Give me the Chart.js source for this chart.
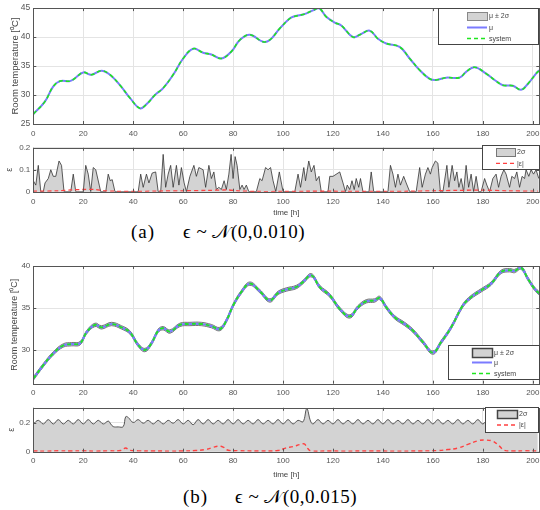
<!DOCTYPE html>
<html><head><meta charset="utf-8">
<script src="https://cdn.jsdelivr.net/npm/chart.js@4.4.0/dist/chart.umd.min.js"></script>
<style>
html,body{margin:0;padding:0;background:#fff;width:540px;height:510px;overflow:hidden;position:relative}
.c{position:absolute;left:0;width:560px}
.cap{position:absolute;font-family:"Liberation Serif","DejaVu Serif",serif;font-size:19px;color:#000;white-space:nowrap;line-height:20px}
</style></head><body>
<div class="c" style="top:0;height:140px"><canvas id="c1"></canvas></div>
<div class="c" style="top:140px;height:80px"><canvas id="c2"></canvas></div>
<div class="cap" style="left:131px;top:222px;letter-spacing:1px">(a)</div>
<div class="cap" style="left:183px;top:222px;letter-spacing:0.5px">ϵ ~ 𝒩(0,0.010)</div>
<div class="c" style="top:255px;height:145px"><canvas id="c3"></canvas></div>
<div class="c" style="top:400px;height:85px"><canvas id="c4"></canvas></div>
<div class="cap" style="left:183px;top:487px;letter-spacing:1px">(b)</div>
<div class="cap" style="left:235px;top:487px;letter-spacing:0.5px">ϵ ~ 𝒩(0,0.015)</div>
<script>
// ---------- data ----------
const X_TICKS = [0,20,40,60,80,100,120,140,160,180,200];
const X_MAX = 202.6;

// (a) room temperature: mean / system
const T_A = [0,4.7,8,10.7,14.7,16.7,20,23.3,27.3,30.7,34.7,38.7,42.7,45.3,48.7,52,56,60,64,68,71.3,75.3,79.3,82.7,86.7,92,94.7,98.7,102.4,104,108,112,114.4,117.3,120.7,123.3,128,130.7,134.7,138,141.3,146.7,150.7,154.7,158.7,161.3,165.3,170.7,173.3,176.7,181.3,184.7,188,192,195.3,198,201.3,202.7];
const MU_A = [26.7,28.9,31.5,32.4,32.4,32.9,33.9,33.5,34.2,33.5,31.7,29.5,27.7,28.4,30.0,31.2,33.5,36.3,38.0,37.3,37.0,36.3,37.5,39.5,40.4,39.2,39.5,41.5,43.1,43.5,43.9,44.6,45.0,43.5,42.5,42.0,40.0,40.4,41.1,39.7,38.9,38.3,36.3,34.3,32.8,32.6,33.0,33.0,34.0,34.8,33.7,32.6,31.7,31.6,30.9,31.9,33.7,34.3];
const Y_TICKS_A = [25,30,35,40,45];

// (a) 2 sigma
const T_SA = [0,1,2,3,4,4.7,6,7,8,9,10.3,11.3,12.3,15,16,17,20,21,22,23,24,25,26.4,27,29,30,30.8,31.6,32.7,42,43,44,45.3,46.3,47.6,49,50,51,52,53,54,55,56,57.3,58.3,59.3,60.4,61.3,62.7,64.3,65.3,66.3,68,69,70.3,71.3,72.3,73.3,74.3,75.3,76.4,77.3,78.3,79.2,80,80.8,81.6,82.7,83.6,84.4,85.3,86.3,89.3,90.7,91.6,93,94,95,96,97.1,98.5,100,104.7,106,107,108.3,109,110.3,111.3,112.4,113.3,114.4,115.3,118,118.7,120,122.7,124,125,125.7,126.7,127.6,128.5,129.3,130.3,131,132,134.4,135.3,136.3,142,143,144,145,146,147,148.3,149.3,150.7,153.3,154.7,155.7,157,158,159,159.7,161,162,163,164,165.6,166.4,167.7,168.7,169.6,170.4,171.3,172.3,173.3,174.3,175.3,176.3,177.3,178.3,179.3,180.7,181.6,182.7,184,185.3,186.3,187.3,188.4,189.3,190.7,191.6,192.7,193.6,194.7,195.7,196.7,197.3,198.4,199.3,200.3,201.3,202.4];
const S2_A = [0.05,0.03,0.12,0,0,0.04,0.06,0.10,0.07,0.07,0.14,0.12,0,0,0.08,0,0,0.12,0.08,0,0.11,0.10,0.03,0,0,0.08,0.05,0.055,0,0,0.08,0.02,0.08,0.04,0.085,0.09,0,0,0.17,0.02,0.08,0.12,0.02,0.12,0.03,0.11,0.04,0,0.07,0.12,0.07,0.11,0.10,0.02,0.12,0.06,0.09,0.01,0.02,0.01,0.05,0.01,0.08,0.17,0.06,0.16,0.12,0.01,0.03,0.01,0.03,0,0,0.06,0.05,0.11,0.10,0.11,0.05,0,0.09,0,0,0.08,0.02,0.11,0.05,0.14,0.09,0.12,0.05,0.07,0,0,0.07,0.07,0.09,0.04,0,0.03,0.01,0.05,0.01,0.06,0.02,0.06,0,0,0.09,0,0,0.12,0.08,0.02,0.08,0.03,0.07,0.04,0,0,0.11,0.02,0.08,0.11,0.08,0.11,0.14,0.13,0,0,0.12,0.02,0.12,0.05,0.09,0.02,0.06,0,0.12,0.02,0.08,0,0.07,0,0,0.06,0.03,0,0.06,0.08,0.02,0.07,0.10,0.08,0.02,0.07,0.06,0.09,0.02,0.07,0.06,0.10,0.07,0.10,0.08,0.10,0.06];
const T_EA = [0,10,15,20,25,28,33,40,50,60,70,78,82,90,100,110,120,140,150,160,170,180,190,202];
const ERR_A = [0.002,0.004,0.008,0.01,0.01,0.005,0.002,0.001,0.003,0.004,0.006,0.008,0.004,0.001,0.001,0.002,0.002,0.001,0.002,0.004,0.006,0.007,0.004,0.002];
const Y_TICKS_EA = [0,0.1,0.2];

// (b) room temperature
const T_B = [0,4,8,12,15.3,18.7,21.3,24.7,27.3,31.3,35.3,38.7,42,44.7,47.3,50,52,54.7,58.7,62.7,67.3,71.3,74.7,77.3,80,83.3,86.7,90.7,94.7,98,101.3,105.3,108,111.3,114.7,118.7,122.7,126.7,130,133.3,136.7,138.7,141.3,144.7,148.7,152,156,160,163.3,167.3,172,175.3,179.3,183.3,187.3,190.7,192.7,195.3,198,200.7,202.7];
const MU_B = [26.6,28.2,29.6,30.55,30.7,30.8,32.1,33.0,32.7,33.1,32.7,32.1,30.6,30.0,30.8,32.3,32.6,32.2,33.0,33.1,33.1,32.85,32.5,33.5,35.3,36.9,37.9,37.0,35.9,36.8,37.2,37.5,38.1,38.9,37.5,36.5,34.9,34.0,35.1,35.8,35.9,36.2,35.1,33.9,33.1,32.3,30.95,29.7,30.95,32.7,35.3,36.3,37.1,37.9,39.3,39.5,39.4,39.8,38.5,37.3,36.7];
const BAND_B = 0.2;
const Y_TICKS_B = [30,35,40];

// (b) 2 sigma
const T_SB = [0,2,4,6,8,10,12,14,16,18,20,22,24,26,28,30,31,32,34,36,37,38,40,42,44,46,48,50,52,54,56,58,60,62,64,66,68,70,72,74,76,78,80,82,84,86,88,90,92,94,96,98,100,102,104,106,108,109.5,111,112,114,116,118,120,122,124,126,128,130,132,134,136,138,140,142,144,146,148,150,152,154,156,158,160,162,164,166,168,170,172,174,176,178,180,182,184,186,188,190,192,194,196,198,200,202];
const S2_B = [0.19,0.215,0.19,0.22,0.19,0.22,0.19,0.215,0.19,0.22,0.19,0.22,0.19,0.215,0.19,0.21,0.19,0.172,0.17,0.172,0.24,0.235,0.20,0.22,0.195,0.215,0.19,0.215,0.19,0.215,0.195,0.22,0.19,0.215,0.185,0.22,0.19,0.22,0.19,0.215,0.19,0.22,0.19,0.22,0.19,0.215,0.19,0.22,0.19,0.215,0.19,0.22,0.19,0.22,0.19,0.215,0.205,0.295,0.21,0.19,0.22,0.19,0.215,0.19,0.22,0.19,0.215,0.19,0.22,0.19,0.215,0.19,0.22,0.19,0.22,0.19,0.215,0.19,0.22,0.19,0.215,0.19,0.22,0.19,0.22,0.19,0.215,0.19,0.22,0.19,0.215,0.19,0.22,0.19,0.22,0.185,0.215,0.19,0.22,0.19,0.215,0.19,0.22,0.19,0.215];
const T_EB = [0,5,10,15,20,25,30,35,37,38.5,42,48,55,60,65,69,72,74,76,78,82,90,98,101,104,107,108.5,110,111,118,125,135,145,155,162,166,170,174,178,181,184,186.5,188.5,192,197,202];
const ERR_B = [0.005,0.004,0.006,0.005,0.006,0.004,0.006,0.008,0.025,0.01,0.006,0.005,0.004,0.005,0.008,0.015,0.03,0.038,0.032,0.01,0.007,0.005,0.008,0.025,0.035,0.05,0.053,0.02,0.006,0.005,0.004,0.005,0.004,0.005,0.008,0.015,0.025,0.05,0.075,0.08,0.072,0.04,0.01,0.005,0.006,0.005];
const Y_TICKS_EB = [0,0.2];

// ---------- helpers ----------
const pts = (t, y) => t.map((x, i) => ({x, y: y[i]}));
const FONT = "'Liberation Sans', Arial, sans-serif";
const TICKCOL = '#555';
const GRID = '#e4e4e4';
const BLUE = '#7b7bff';
const GREEN = '#1fe61f';
const RED = '#ff4040';
const FILLG = '#d3d3d3';

const frame = {
  id: 'frame',
  afterDraw(chart) {
    const {ctx, chartArea: a, scales: {x, y}} = chart;
    ctx.save();
    ctx.strokeStyle = '#555';
    ctx.lineWidth = 1;
    ctx.strokeRect(Math.round(a.left) + 0.5, Math.round(a.top) + 0.5, Math.round(a.right - a.left), Math.round(a.bottom - a.top));
    ctx.beginPath();
    x.ticks.forEach(t => {
      const px = Math.round(x.getPixelForValue(t.value)) + 0.5;
      ctx.moveTo(px, a.bottom); ctx.lineTo(px, a.bottom - 3);
      ctx.moveTo(px, a.top); ctx.lineTo(px, a.top + 3);
    });
    y.ticks.forEach(t => {
      const py = Math.round(y.getPixelForValue(t.value)) + 0.5;
      ctx.moveTo(a.left, py); ctx.lineTo(a.left + 3, py);
      ctx.moveTo(a.right, py); ctx.lineTo(a.right - 3, py);
    });
    ctx.stroke();
    ctx.restore();
  }
};

function legend(cfg) {
  return {
    id: 'lgd',
    afterDraw(chart) {
      const ctx = chart.ctx;
      ctx.save();
      ctx.fillStyle = '#fff';
      ctx.fillRect(cfg.x0, cfg.y0, cfg.x1 - cfg.x0, cfg.y1 - cfg.y0);
      ctx.strokeStyle = '#444';
      ctx.lineWidth = 1;
      ctx.strokeRect(cfg.x0 + 0.5, cfg.y0 + 0.5, cfg.x1 - cfg.x0, cfg.y1 - cfg.y0);
      ctx.font = '7px ' + FONT;
      ctx.fillStyle = '#444';
      ctx.textBaseline = 'middle';
      cfg.items.forEach(it => {
        if (it.type === 'rect') {
          ctx.fillStyle = FILLG;
          ctx.fillRect(cfg.sx0, it.y - it.h / 2, cfg.sx1 - cfg.sx0, it.h);
          ctx.strokeStyle = it.border;
          ctx.lineWidth = it.bw;
          ctx.strokeRect(cfg.sx0 + 0.5, it.y - it.h / 2 + 0.5, cfg.sx1 - cfg.sx0, it.h);
        } else {
          ctx.strokeStyle = it.color;
          ctx.lineWidth = it.w;
          ctx.setLineDash(it.dash || []);
          ctx.beginPath();
          ctx.moveTo(cfg.sx0, it.y); ctx.lineTo(cfg.sx1, it.y);
          ctx.stroke();
          ctx.setLineDash([]);
        }
        ctx.fillStyle = '#444';
        ctx.fillText(it.label, cfg.tx, it.y + 0.5);
      });
      ctx.restore();
    }
  };
}

function makeChart(id, datasets, o) {
  return new Chart(document.getElementById(id), {
    type: 'line',
    data: {datasets},
    options: {
      responsive: true, maintainAspectRatio: false, animation: false, devicePixelRatio: 1,
      layout: {padding: {top: o.top, right: 20.7, left: 0, bottom: 0}},
      elements: {point: {radius: 0}},
      plugins: {legend: {display: false}, tooltip: {enabled: false}},
      scales: {
        x: {
          type: 'linear', min: 0, max: X_MAX,
          afterBuildTicks: s => { s.ticks = X_TICKS.map(v => ({value: v})); },
          afterFit: s => { s.height = o.xh; },
          grid: {color: GRID, drawTicks: false},
          border: {display: false},
          ticks: {font: {family: FONT, size: 8}, color: TICKCOL, padding: o.xpad, maxRotation: 0, autoSkip: false},
          title: o.xtitle ? {display: true, text: 'time [h]', font: {family: FONT, size: 8}, color: '#444', padding: {top: 0, bottom: o.xtpad}} : {display: false}
        },
        y: {
          type: 'linear', min: o.ymin, max: o.ymax,
          afterBuildTicks: s => { s.ticks = o.yticks.map(v => ({value: v})); },
          afterFit: s => { s.width = 33.3; },
          grid: {color: GRID, drawTicks: false},
          border: {display: false},
          ticks: {font: {family: FONT, size: o.ysize || 8}, color: TICKCOL, padding: 3},
          title: {display: true, text: o.ytitle, font: {family: FONT, size: o.ytsize}, color: '#444', padding: {top: o.ytpad, bottom: 0}}
        }
      }
    },
    plugins: [frame, legend(o.legend)]
  });
}

// (a) top
makeChart('c1', [
  {data: pts(T_A, MU_A), borderColor: GREEN, borderWidth: 1.6, borderDash: [4, 3], tension: 0.4, fill: false},
  {data: pts(T_A, MU_A), borderColor: BLUE, borderWidth: 2, tension: 0.4, fill: false}
], {top: 8, xh: 16, xpad: 5, ymin: 25, ymax: 45, yticks: Y_TICKS_A, ysize: 8.5,
    ytitle: 'Room temperature [\u2070C]', ytsize: 9.5, ytpad: 9.3,
    legend: {x0: 438, y0: 8, x1: 538, y1: 44, sx0: 467, sx1: 487, tx: 489,
      items: [
        {type: 'rect', y: 16, h: 8, border: '#888', bw: 1, label: 'μ ± 2σ'},
        {type: 'line', y: 27.5, color: BLUE, w: 2, label: 'μ'},
        {type: 'line', y: 38.5, color: GREEN, w: 1.6, dash: [4, 3], label: 'system'}
      ]}});

// (a) bottom
makeChart('c2', [
  {data: pts(T_EA, ERR_A), borderColor: RED, borderWidth: 1.3, borderDash: [4, 3], tension: 0.3, fill: false},
  {data: pts(T_SA, S2_A), borderColor: '#333', borderWidth: 0.8, backgroundColor: FILLG, tension: 0, fill: 'origin'}
], {top: 5, xh: 28.3, xpad: 5, xtitle: true, xtpad: 2.5, ymin: 0, ymax: 0.2, yticks: Y_TICKS_EA,
    ytitle: 'ε', ytsize: 9, ytpad: 4.5,
    legend: {x0: 482, y0: 5, x1: 539, y1: 29, sx0: 496, sx1: 515, tx: 517,
      items: [
        {type: 'rect', y: 12, h: 8, border: '#777', bw: 1, label: '2σ'},
        {type: 'line', y: 23.3, color: RED, w: 1.3, dash: [4, 3], label: '|ε|'}
      ]}});

// (b) top
makeChart('c3', [
  {data: pts(T_B, MU_B), borderColor: GREEN, borderWidth: 1.8, borderDash: [4, 3], tension: 0.4, fill: false},
  {data: pts(T_B, MU_B), borderColor: BLUE, borderWidth: 2.2, tension: 0.4, fill: false},
  {data: pts(T_B, MU_B.map(v => v - BAND_B)), borderColor: '#777', borderWidth: 1, tension: 0.4, fill: false},
  {data: pts(T_B, MU_B.map(v => v + BAND_B)), borderColor: '#777', borderWidth: 1, backgroundColor: '#c9c9c9', tension: 0.4, fill: '-1'}
], {top: 11, xh: 16.3, xpad: 4, ymin: 26, ymax: 40, yticks: Y_TICKS_B, ysize: 8,
    ytitle: 'Room temperature [\u2070C]', ytsize: 9, ytpad: 9.6,
    legend: {x0: 448, y0: 90, x1: 539, y1: 124, sx0: 472, sx1: 492, tx: 494,
      items: [
        {type: 'rect', y: 97.5, h: 9, border: '#444', bw: 1.5, label: 'μ ± 2σ'},
        {type: 'line', y: 107.5, color: BLUE, w: 2, label: 'μ'},
        {type: 'line', y: 118.5, color: GREEN, w: 1.6, dash: [4, 3], label: 'system'}
      ]}});

// (b) bottom
makeChart('c4', [
  {data: pts(T_EB, ERR_B), borderColor: RED, borderWidth: 1.4, borderDash: [4, 3], tension: 0.4, fill: false},
  {data: pts(T_SB, S2_B), borderColor: '#555', borderWidth: 1, backgroundColor: FILLG, tension: 0.4, fill: 'origin'}
], {top: 5, xh: 33.3, xpad: 4, xtitle: true, xtpad: 5, ymin: 0, ymax: 0.301, yticks: Y_TICKS_EB,
    ytitle: 'ε', ytsize: 9, ytpad: 6,
    legend: {x0: 485, y0: 7, x1: 538, y1: 32, sx0: 497, sx1: 517, tx: 519,
      items: [
        {type: 'rect', y: 14, h: 8, border: '#444', bw: 1.5, label: '2σ'},
        {type: 'line', y: 25, color: RED, w: 1.4, dash: [4, 3], label: '|ε|'}
      ]}});
</script>
</body></html>
